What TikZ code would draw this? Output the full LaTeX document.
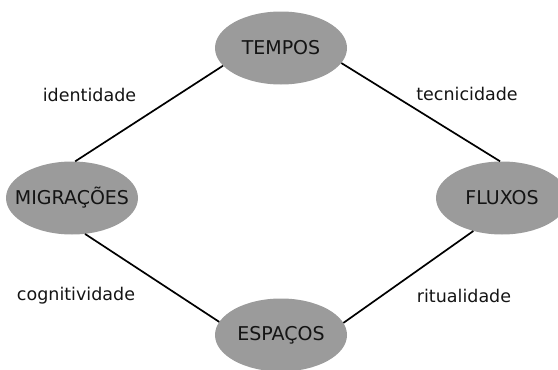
\documentclass[tikz,border=0pt]{standalone}
\usepackage{fontspec}
\setmainfont{DejaVu Sans}
\usetikzlibrary{shapes.geometric}
\definecolor{ellgray}{RGB}{155,155,155}
\definecolor{txtdark}{RGB}{20,20,20}
\begin{document}
\begin{tikzpicture}[x=1pt,y=-1pt,
  concept/.style={ellipse,fill=ellgray,minimum width=132pt,minimum height=73pt,inner sep=0pt,
    text=txtdark,font=\fontsize{19}{22}\selectfont},
  lbl/.style={text=txtdark,font=\fontsize{17.5}{21}\selectfont,inner sep=0pt},
  link/.style={line width=1.7pt,black}]
\useasboundingbox (0,0) rectangle (558,370);
\node[concept] (tempos) at (281,48) {TEMPOS};
\node[concept,inner xsep=-12pt] (migr) at (72,198) {MIGRAÇÕES};
\node[concept] (fluxos) at (502,198) {FLUXOS};
\node[concept] (espacos) at (281,335) {ESPAÇOS};
\draw[link] (tempos.197) -- (migr.85);
\draw[link] (tempos.-14) -- (fluxos.93);
\draw[link] (migr.-70) -- (espacos.168);
\draw[link] (espacos.11) -- (fluxos.229);
\node[lbl] (l1) at (89.5,95) {identidade};
\node[lbl] (l2) at (467,94) {tecnicidade};
\node[lbl] (l3) at (76,296) {cognitividade};
\node[lbl] (l4) at (464,296) {ritualidade};
\end{tikzpicture}
\end{document}
